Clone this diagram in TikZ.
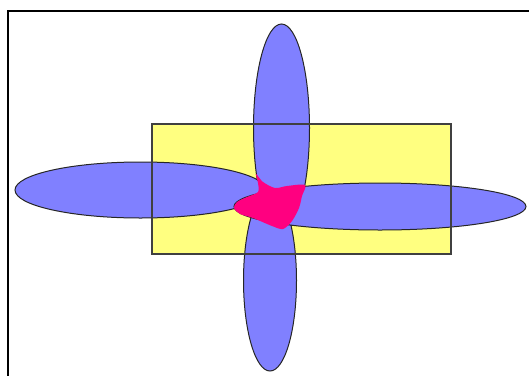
\documentclass[tikz,border=0pt]{standalone}
\usepackage{xcolor}
\usepackage{tikz}
\definecolor{petal}{RGB}{128,128,255}
\definecolor{pad}{RGB}{255,255,128}
\definecolor{core}{RGB}{255,0,128}
\begin{document}
\begin{tikzpicture}[x=1pt,y=1pt,petalfill/.style={fill=petal,draw=black!85,line width=1pt}]
\useasboundingbox(0,0)rectangle(529,376);
\fill[pad](152,252)rectangle(451,122);
% petals
\draw[petalfill](281.5,248)ellipse[x radius=28,y radius=104];
\draw[petalfill](270,95.5)ellipse[x radius=26.5,y radius=90.5];
\draw[petalfill](140.5,186)ellipse[x radius=125.5,y radius=28];
\draw[petalfill](380,169.5)ellipse[x radius=146,y radius=23.5];
\draw[black!75,line width=1.3pt](152,252)rectangle(451,122);
% centre
\fill[core]plot[smooth cycle,tension=0.5]coordinates{(256,202)(263,194)(275,188)(287,190)(305,191)(302,180)(299,168)(292,155)(283,147)(272,150)(253,158)(240,162)(234,168)(237,174)(247,179)(258,184)(258,193)};
% frame
\draw[line width=2pt](529,365)--(8,365)--(8,0);
\end{tikzpicture}
\end{document}
